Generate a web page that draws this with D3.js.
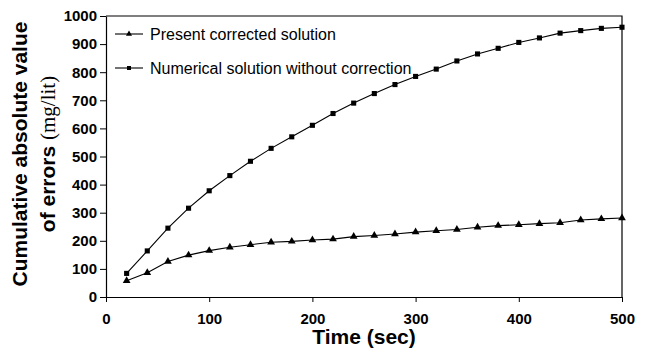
<!DOCTYPE html>
<html>
<head>
<meta charset="utf-8">
<script src="https://cdn.jsdelivr.net/npm/d3@7"></script>
<style>
  body { margin: 0; background: #fff; overflow: hidden; }
  svg { display: block; }
  text { font-family: "Liberation Sans", Arial, sans-serif; }
</style>
</head>
<body>
<div id="plot"></div>
<script>
// time steps (sec)
const times = [20, 40, 60, 80, 100, 120, 140, 160, 180, 200, 220, 240, 260, 280, 300,
               320, 340, 360, 380, 400, 420, 440, 460, 480, 500];
// present corrected solution (triangles)
const corrected = [58, 86, 126, 149, 165, 177, 186, 195, 198, 203, 206, 215, 219, 224, 231,
                   236, 240, 248, 254, 257, 261, 264, 274, 278, 281];
// numerical solution without correction (squares)
const uncorrected = [84, 164, 245, 316, 378, 432, 483, 529, 570, 611, 653, 690, 724, 756, 785,
                     811, 840, 865, 885, 906, 922, 939, 948, 956, 960];
const xTicks = [0, 100, 200, 300, 400, 500];
const yTicks = [0, 100, 200, 300, 400, 500, 600, 700, 800, 900, 1000];

const w = 655, h = 358;
const margin = {top: 16, right: 33, bottom: 61, left: 106};
const innerWidth = w - margin.left - margin.right;
const innerHeight = h - margin.top - margin.bottom;

const xScale = d3.scaleLinear().domain([0, 500]).range([0, innerWidth]);
const yScale = d3.scaleLinear().domain([0, 1000]).range([innerHeight, 0]);

const svg = d3.select("div#plot").append("svg")
  .attr("width", w)
  .attr("height", h);

const g = svg.append("g")
  .attr("transform", `translate(${margin.left}, ${margin.top})`);

// frame top and right
g.append("path")
  .attr("d", `M0,0H${innerWidth}V${innerHeight}`)
  .attr("fill", "none")
  .attr("stroke", "#000")
  .attr("stroke-width", 1.2);

// axes
const xAxis = g.append("g")
  .attr("transform", `translate(0, ${innerHeight})`)
  .call(d3.axisBottom(xScale).tickValues(xTicks).tickFormat(d3.format("d"))
    .tickSize(5).tickPadding(11).tickSizeOuter(0));
const yAxis = g.append("g")
  .call(d3.axisLeft(yScale).tickValues(yTicks).tickFormat(d3.format("d"))
    .tickSize(6).tickPadding(3).tickSizeOuter(0));

[xAxis, yAxis].forEach(a => {
  a.select(".domain").attr("stroke-width", 1.2);
  a.selectAll(".tick line").attr("stroke-width", 1);
  a.selectAll("text")
    .attr("font-family", "'Liberation Sans', Arial, sans-serif")
    .attr("font-size", 15)
    .attr("font-weight", "bold")
    .attr("fill", "#000");
});

const line = d3.line()
  .x((d, i) => xScale(times[i]))
  .y(d => yScale(d));

// lines
[corrected, uncorrected].forEach(series => {
  g.append("path")
    .datum(series)
    .attr("d", line)
    .attr("fill", "none")
    .attr("stroke", "#000")
    .attr("stroke-width", 1.1);
});

const tri = d3.symbol().type(d3.symbolTriangle).size(26);
const sq = d3.symbol().type(d3.symbolSquare).size(26);

g.selectAll(".tri")
  .data(corrected)
  .join("path")
  .attr("class", "tri")
  .attr("d", tri)
  .attr("transform", (d, i) => `translate(${xScale(times[i])}, ${yScale(d)})`)
  .attr("fill", "#000");

g.selectAll(".sq")
  .data(uncorrected)
  .join("path")
  .attr("class", "sq")
  .attr("d", sq)
  .attr("transform", (d, i) => `translate(${xScale(times[i])}, ${yScale(d)})`)
  .attr("fill", "#000");

// legend
const legend = [
  {label: "Present corrected solution", type: d3.symbolTriangle, y: 34},
  {label: "Numerical solution without correction", type: d3.symbolSquare, y: 68}
];
legend.forEach(l => {
  svg.append("line")
    .attr("x1", 115).attr("x2", 143)
    .attr("y1", l.y).attr("y2", l.y)
    .attr("stroke", "#000")
    .attr("stroke-width", 1.1);
  svg.append("path")
    .attr("d", d3.symbol().type(l.type).size(16)())
    .attr("transform", `translate(129, ${l.y})`)
    .attr("fill", "#000");
  svg.append("text")
    .attr("x", 150)
    .attr("y", l.y + 6)
    .attr("font-size", 16)
    .attr("fill", "#000")
    .text(l.label);
});

// y axis title
const yTitle = svg.append("text")
  .attr("transform", `translate(0, 154) rotate(-90)`)
  .attr("text-anchor", "middle")
  .attr("font-size", 21)
  .attr("font-weight", "bold")
  .attr("fill", "#000");
yTitle.append("tspan")
  .attr("x", 0)
  .attr("y", 27)
  .text("Cumulative absolute value");
yTitle.append("tspan")
  .attr("x", 0)
  .attr("y", 55)
  .text("of errors ");
yTitle.append("tspan")
  .attr("font-family", "'Liberation Serif', 'DejaVu Serif', serif")
  .attr("font-weight", "normal")
  .attr("font-size", 21)
  .text("(mg/lit)");

// x axis title
svg.append("text")
  .attr("x", margin.left + innerWidth / 2)
  .attr("y", 344)
  .attr("text-anchor", "middle")
  .attr("font-size", 21)
  .attr("font-weight", "bold")
  .attr("fill", "#000")
  .text("Time (sec)");
</script>
</body>
</html>
